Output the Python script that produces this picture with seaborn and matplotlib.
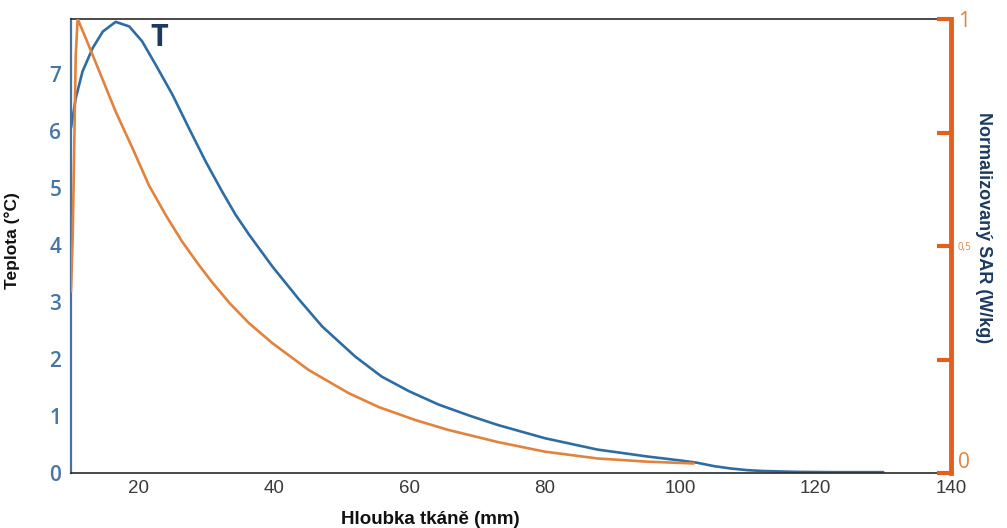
import matplotlib
matplotlib.use("Agg")
import matplotlib.pyplot as plt
import seaborn as sns

# teplota (leva osa)
depth_T = [10.0, 10.7, 11.7, 13.2, 14.7, 16.6, 18.6, 20.5, 22.5, 25.0, 27.4, 29.9,
           32.3, 34.3, 36.3, 39.75, 43.7, 47.1, 52.0, 55.9, 60.0, 64.3, 69.0, 73.1,
           80.0, 87.8, 91.5, 95.1, 100.0, 102.5, 105.0, 107.4, 109.9, 112.3, 117.2,
           122.0, 130.0]
temp = [6.05, 6.57, 7.04, 7.45, 7.74, 7.91, 7.83, 7.57, 7.16, 6.63, 6.05, 5.46,
        4.94, 4.53, 4.18, 3.62, 3.04, 2.57, 2.04, 1.69, 1.43, 1.20, 1.00, 0.84,
        0.61, 0.41, 0.35, 0.29, 0.22, 0.18, 0.12, 0.08, 0.05, 0.035, 0.02,
        0.015, 0.015]

# normalizovany SAR (prava osa)
depth_SAR = [10.0, 10.25, 10.5, 10.7, 10.98, 12.2, 14.2, 16.6, 19.1, 21.5, 24.0,
             26.4, 28.9, 30.8, 33.5, 36.3, 39.75, 45.1, 51.0, 55.5, 60.8, 65.7,
             73.1, 80.0, 87.8, 95.1, 102.0]
sar = [0.40, 0.52, 0.74, 0.92, 1.0, 0.957, 0.884, 0.796, 0.715, 0.634, 0.568,
       0.510, 0.458, 0.421, 0.373, 0.33, 0.286, 0.227, 0.176, 0.145, 0.117, 0.095,
       0.068, 0.047, 0.032, 0.025, 0.021]

x_ticks = [20, 40, 60, 80, 100, 120, 140]
t_ticks = [0, 1, 2, 3, 4, 5, 6, 7]
sar_ticks = [0, 0.25, 0.5, 0.75, 1]
sar_labels = ["0", "", "0,5", "", "1"]

blue = "#2e6da4"
orange = "#e3823c"
orange_axis = "#e2601c"
tick_blue = "#4676a6"
navy = "#1c3a5e"

sns.set_style("white")
plt.rcParams['font.family'] = ['Liberation Sans', 'DejaVu Sans']

fig = plt.figure(figsize=(10.07, 5.28), dpi=100)
ax = fig.add_axes([71 / 1007, 55 / 528, 880 / 1007, 454 / 528])

sns.lineplot(x=depth_T, y=temp, ax=ax, color=blue, linewidth=1.9)
ax.set_xlim(10, 140)
ax.set_ylim(0, 7.96)
ax.set_xticks(x_ticks)
ax.set_yticks(t_ticks)
ax.set_yticklabels([str(t) for t in t_ticks], family="Open Sans", fontsize=15,
                   color=tick_blue, fontweight="semibold")
ax.tick_params(axis="y", length=0, pad=7)
ax.tick_params(axis="x", direction="in", length=7, width=1, color="#333333",
               labelsize=13.5, labelcolor="#3a3a3a", pad=5, top=False)

ax.set_xlabel("Hloubka tkáně (mm)", fontsize=13.5, fontweight="bold", color="#111111")
ax.xaxis.set_label_coords(0.408, -0.083)
ax.set_ylabel("Teplota (°C)", fontsize=12.5, fontweight="bold", color="#111111")
ax.yaxis.set_label_coords(-0.058, 0.513)

for side in ["top", "bottom"]:
    ax.spines[side].set_color("#2a2a2a")
    ax.spines[side].set_linewidth(1.2)
ax.spines["left"].set_color("#4a72a0")
ax.spines["left"].set_linewidth(1.6)
ax.spines["right"].set_visible(False)

ax.text(23.1, 7.63, "T", ha="center", va="center", fontsize=22, color=navy,
        family="Open Sans", fontweight="bold")

ax2 = ax.twinx()
sns.lineplot(x=depth_SAR, y=sar, ax=ax2, color=orange, linewidth=1.9)
ax2.set_ylim(0, 1)
ax2.set_yticks(sar_ticks)
ax2.set_yticklabels(sar_labels, color=orange, family="Open Sans")
for lab, txt in zip(ax2.get_yticklabels(), sar_labels):
    lab.set_fontsize(7 if txt == "0,5" else 15)
    if txt == "0":
        lab.set_verticalalignment("bottom")
ax2.tick_params(axis="y", direction="in", length=10, width=3, color=orange_axis, pad=5)
for side in ["top", "bottom", "left"]:
    ax2.spines[side].set_visible(False)
ax2.spines["right"].set_color(orange_axis)
ax2.spines["right"].set_linewidth(3.5)
ax2.set_ylabel("Normalizovaný SAR (W/kg)", rotation=270, fontsize=13,
               fontweight="bold", color=navy)
ax2.yaxis.set_label_coords(1.047, 0.54)

fig.savefig("out.png", dpi=100, facecolor="white")
